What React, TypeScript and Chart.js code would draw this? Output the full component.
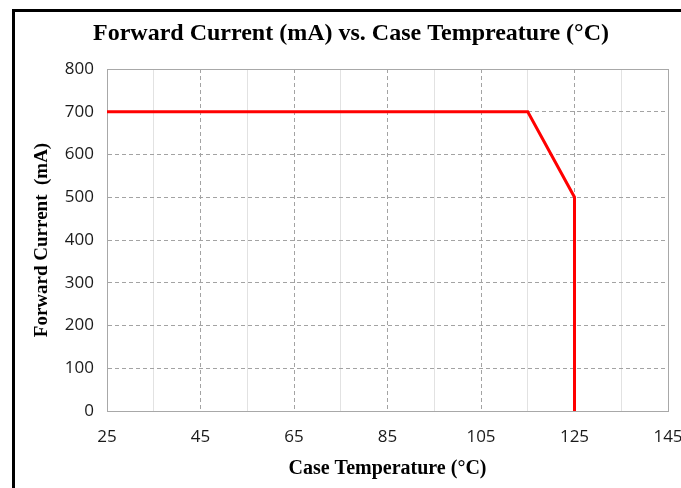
import React, { useEffect, useRef } from 'react';
import { Chart, registerables } from 'chart.js';

Chart.register(...registerables);

// ---- data ----
const temperatures = [25, 115, 125, 125];
const currents = [700, 700, 500, 0];

const xMin = 25;
const xMax = 145;
const xStep = 10;
const xLabelStep = 20;
const yMin = 0;
const yMax = 800;
const yStep = 100;

const chartTitle = 'Forward Current (mA) vs. Case Tempreature (°C)';
const xAxisTitle = 'Case Temperature (°C)';
const yAxisTitle = 'Forward Current  (mA)';

const MAJOR = '#a3a3a3';
const MINOR = '#e2e2e2';
const EDGE = '#a8a8a8';

export default function App() {
  const ref = useRef<HTMLCanvasElement | null>(null);

  useEffect(() => {
    if (!ref.current) return;

    const titlePlugin = {
      id: 'mainTitle',
      afterDraw(chart: any) {
        const c = chart.ctx;
        c.save();
        c.font = 'bold 24px "Liberation Serif"';
        c.fillStyle = '#000';
        c.textAlign = 'center';
        c.textBaseline = 'middle';
        c.fillText(chartTitle, 351, 34);
        c.restore();
      },
    };

    const chart = new Chart(ref.current, {
      type: 'scatter',
      data: {
        datasets: [
          {
            data: temperatures.map((t, i) => ({ x: t, y: currents[i] })),
            showLine: true,
            borderColor: '#ff0000',
            backgroundColor: '#ff0000',
            borderWidth: 3,
            pointRadius: 0,
            tension: 0,
          },
        ],
      },
      options: {
        animation: false,
        responsive: false,
        devicePixelRatio: 1,
        layout: { padding: { top: 69, right: 13, left: 0, bottom: 0 } },
        plugins: {
          legend: { display: false },
          tooltip: { enabled: false },
          title: { display: false },
        },
        scales: {
          x: {
            type: 'linear',
            min: xMin,
            max: xMax,
            afterFit(s: any) {
              s.height = 77;
              s.paddingLeft = 0;
              s.paddingRight = 0;
            },
            ticks: {
              stepSize: xStep,
              autoSkip: false,
              maxRotation: 0,
              padding: 16,
              color: '#1a1a1a',
              font: { family: '"Open Sans"', size: 17 },
              callback: (v: any) => ((v - xMin) % xLabelStep === 0 ? String(v) : ''),
            },
            grid: {
              drawTicks: false,
              lineWidth: 1,
              color: (ctx: any) => {
                const v = ctx.tick ? ctx.tick.value : 0;
                if (v === xMin || v === xMax) return EDGE;
                return (v - xMin) % xLabelStep === 0 ? MAJOR : MINOR;
              },
            },
            border: {
              display: true,
              color: EDGE,
              width: 1,
              dash: (ctx: any) => {
                if (!ctx.tick) return [];
                const v = ctx.tick.value;
                if (v === xMin || v === xMax) return [];
                return (v - xMin) % xLabelStep === 0 ? [4, 3] : [];
              },
            },
            title: {
              display: true,
              text: xAxisTitle,
              color: '#000',
              font: { family: '"Liberation Serif"', size: 20, weight: 'bold' },
              padding: { top: 0, bottom: 7 },
            },
          },
          y: {
            type: 'linear',
            min: yMin,
            max: yMax,
            afterFit(s: any) {
              s.width = 107;
              s.paddingTop = 0;
              s.paddingBottom = 0;
            },
            ticks: {
              stepSize: yStep,
              padding: 13,
              color: '#1a1a1a',
              font: { family: '"Open Sans"', size: 17 },
            },
            grid: {
              drawTicks: false,
              lineWidth: 1,
              color: (ctx: any) => {
                const v = ctx.tick ? ctx.tick.value : 0;
                return v === yMin || v === yMax ? EDGE : MAJOR;
              },
            },
            border: {
              display: true,
              color: EDGE,
              width: 1,
              dash: (ctx: any) => {
                if (!ctx.tick) return [];
                const v = ctx.tick.value;
                return v === yMin || v === yMax ? [] : [4, 3];
              },
            },
            title: {
              display: true,
              text: yAxisTitle,
              color: '#000',
              font: { family: '"Liberation Serif"', size: 19, weight: 'bold' },
              padding: { top: 31, bottom: 0 },
            },
          },
        },
      },
      plugins: [titlePlugin],
    } as any);

    return () => chart.destroy();
  }, []);

  return (
    <div
      style={{
        position: 'fixed',
        left: 0,
        top: 0,
        width: 681,
        height: 488,
        background: '#fff',
        overflow: 'hidden',
      }}
    >
      <div
        style={{
          position: 'absolute',
          left: 12,
          top: 9,
          width: 720,
          height: 520,
          borderLeft: '3px solid #000',
          borderTop: '3px solid #000',
          boxSizing: 'border-box',
        }}
      />
      <canvas
        ref={ref}
        width={681}
        height={488}
        style={{ position: 'absolute', left: 0, top: 0, width: 681, height: 488, display: 'block' }}
      />
    </div>
  );
}
